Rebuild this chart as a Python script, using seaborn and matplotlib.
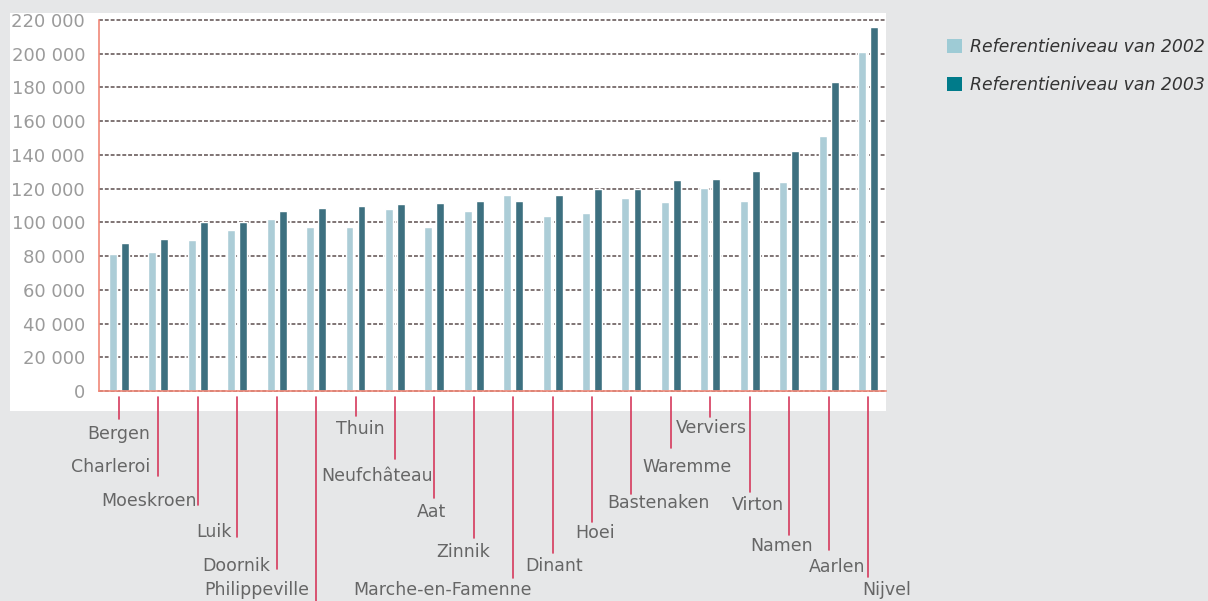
import matplotlib
matplotlib.use("Agg")
import matplotlib.pyplot as plt
import seaborn as sns
import pandas as pd
from matplotlib import transforms
from matplotlib.patches import Patch, Rectangle
from matplotlib.lines import Line2D

# ---------------- data ----------------
gemeenten = ["Bergen", "Charleroi", "Moeskroen", "Luik", "Doornik", "Philippeville",
             "Thuin", "Neufchâteau", "Aat", "Zinnik", "Marche-en-Famenne", "Dinant",
             "Hoei", "Bastenaken", "Waremme", "Verviers", "Virton", "Namen", "Aarlen", "Nijvel"]
niveau_2002 = [81000, 82500, 89500, 95500, 102000, 97000, 97500, 108000, 97000, 106500,
               116000, 103500, 105500, 114500, 112000, 120500, 112500, 124000, 151000, 201000]
niveau_2003 = [88000, 90000, 100000, 100000, 106500, 108500, 109500, 111000, 111500, 112500,
               112500, 116000, 120000, 120000, 125000, 125500, 130500, 142500, 183000, 216000]
jaren = ["Referentieniveau van 2002", "Referentieniveau van 2003"]
y_ticks = [0, 20000, 40000, 60000, 80000, 100000, 120000, 140000, 160000, 180000, 200000, 220000]

# ---------------- label layout (pixels) ----------------
# line end y, text x-offset from tick, text centre y
line_end = [419, 476, 505, 537, 569, 610, 416, 459, 498, 538, 578, 553, 522, 494, 448, 417, 492, 535, 550, 577]
text_dx = [0, -47.5, -49, -23.5, -40, -59, 4.5, -18, -2.5, -11, -71, 1.5, 3, 27, 16, 1.5, 8, -8, 8.5, 19]
text_y = [434, 467, 501, 532, 566, 590, 429, 476, 512, 552, 590, 566, 533, 503, 467, 428, 505, 546, 567, 590]

df = pd.DataFrame({
    "gemeente": gemeenten * 2,
    "niveau": niveau_2002 + niveau_2003,
    "jaar": [jaren[0]] * len(gemeenten) + [jaren[1]] * len(gemeenten),
})

sns.set_style("white")
plt.rcParams["font.family"] = ["DejaVu Sans"]

W, H = 1208, 601
fig = plt.figure(figsize=(W / 100, H / 100), dpi=100, facecolor="#e6e7e8")
fig.add_artist(Rectangle((10 / W, 1 - 411 / H), 876 / W, 398 / H, transform=fig.transFigure,
                         facecolor="white", edgecolor="none", zorder=-5))

ax = fig.add_axes([99 / W, 1 - 391 / H, 787 / W, 371 / H])
sns.barplot(data=df, x="gemeente", y="niveau", hue="jaar", order=gemeenten, hue_order=jaren,
            palette=["#accdd7", "#3d7080"], width=0.61, gap=0.34, saturation=1,
            errorbar=None, legend=False, ax=ax)

ax.set_xlim(-0.507, 19.457)
ax.set_ylim(0, 220000)
ax.set_yticks(y_ticks)
ax.set_yticklabels([f"{v:,}".replace(",", " ") for v in y_ticks])
ax.set_xticks([])
ax.set_xlabel("")
ax.set_ylabel("")
ax.set_facecolor("white")
ax.yaxis.grid(True, color="#7f7474", linestyle=(0, (2, 1)), linewidth=1.4)
for gl in ax.get_ygridlines():
    gl.set_clip_on(False)
ax.set_axisbelow(True)
for s in ["top", "right"]:
    ax.spines[s].set_visible(False)
for s in ["left", "bottom"]:
    ax.spines[s].set_color("#f08878")
    ax.spines[s].set_linewidth(1.2)
ax.tick_params(axis="y", length=0, pad=10, labelsize=13, labelcolor="#9b9b9b")

# leader lines and category labels
blend = transforms.blended_transform_factory(ax.transData, fig.transFigure)
for i, name in enumerate(gemeenten):
    fig.add_artist(Line2D([i, i], [1 - 397 / H, 1 - line_end[i] / H], transform=blend,
                          color="#d63a5c", linewidth=1.2, clip_on=False))
    off = transforms.ScaledTranslation(text_dx[i] / 100, 0, fig.dpi_scale_trans)
    ax.text(i, 1 - text_y[i] / H, name, transform=blend + off, ha="center", va="center",
            fontsize=12.5, color="#666666", clip_on=False)

# legend
handles = [Patch(facecolor="#9ecbd5", edgecolor="none"), Patch(facecolor="#007b8a", edgecolor="none")]
fig.legend(handles=handles, labels=jaren, loc="upper left", bbox_to_anchor=(947 / W, 1 - 38 / H),
           frameon=False, borderpad=0, borderaxespad=0, handlelength=0.87, handleheight=0.87,
           handletextpad=0.47, labelspacing=1.15, prop={"style": "italic", "size": 12.4},
           labelcolor="#333333")

fig.savefig("out.png", dpi=100, facecolor=fig.get_facecolor())
